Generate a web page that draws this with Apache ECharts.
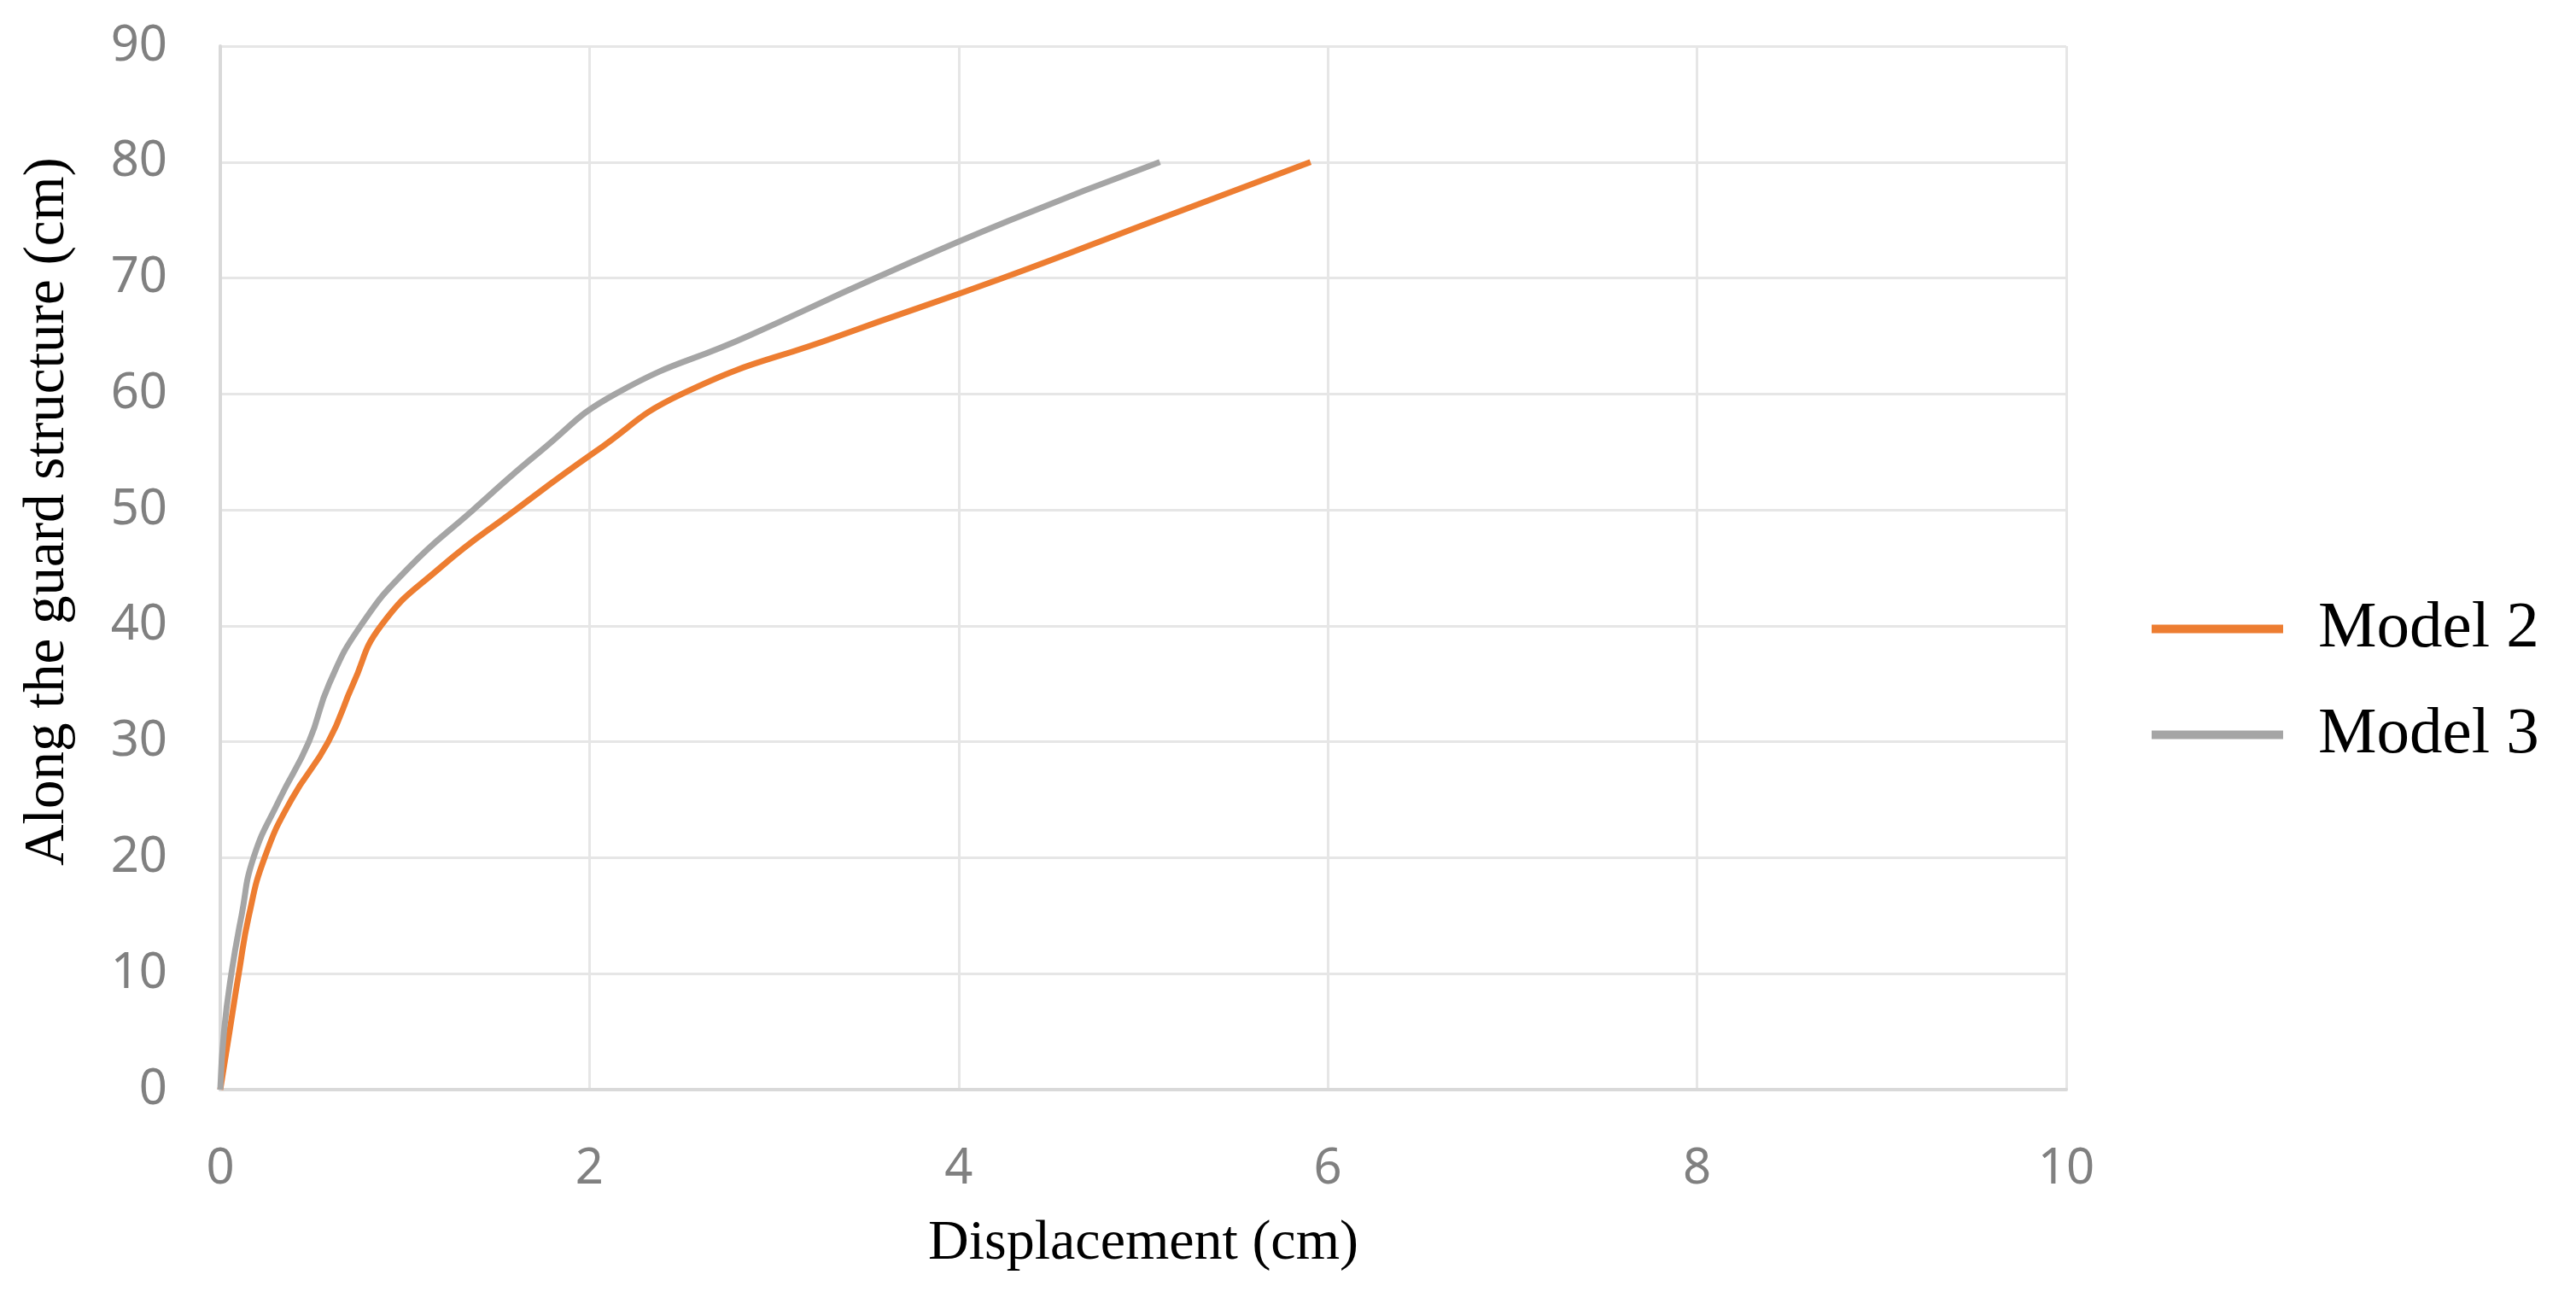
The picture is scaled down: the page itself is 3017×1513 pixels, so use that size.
<!DOCTYPE html>
<html>
<head>
<meta charset="utf-8">
<script src="https://cdn.jsdelivr.net/npm/echarts@6/dist/echarts.min.js"></script>
<style>
html,body{margin:0;padding:0;background:#fff;}
#chart{width:3017px;height:1513px;}
</style>
</head>
<body>
<div id="chart"></div>
<script>
// Height along the guard structure (cm)
const heights = [0, 5, 10, 15, 20, 25, 30, 35, 40, 45, 50, 55, 60, 65, 70, 75, 80];
// Displacement (cm) per height
const model2 = [0, 0.05, 0.10, 0.155, 0.24, 0.385, 0.585, 0.72, 0.87, 1.19, 1.60, 2.03, 2.50, 3.35, 4.24, 5.07, 5.906];
const model3 = [0, 0.02, 0.06, 0.115, 0.18, 0.32, 0.48, 0.59, 0.76, 1.02, 1.37, 1.73, 2.14, 2.86, 3.55, 4.28, 5.09];
const seriesNames = ['Model 2', 'Model 3'];
const xTitle = 'Displacement (cm)';
const yTitle = 'Along the guard structure (cm)';

const toPairs = (xs) => xs.map((x, i) => [x, heights[i]]);

const chart = echarts.init(document.getElementById('chart'));
const labelFont = '"Noto Sans", sans-serif';
const serif = '"Liberation Serif", "Times New Roman", serif';
chart.setOption({
  backgroundColor: '#ffffff',
  animation: false,
  color: ['#ED7D31', '#A5A5A5'],
  grid: { left: 258, top: 54, width: 2162, height: 1222, containLabel: false },
  legend: {
    orient: 'vertical',
    left: 2515,
    top: 693,
    itemWidth: 154,
    itemHeight: 10,
    itemGap: 47,
    icon: 'rect',
    data: seriesNames,
    textStyle: { fontFamily: serif, fontSize: 77, color: '#000', lineHeight: 76, padding: [0, 0, 0, 36] }
  },
  xAxis: {
    type: 'value',
    min: 0, max: 10, interval: 2,
    name: xTitle,
    nameLocation: 'middle',
    nameGap: 148,
    nameTextStyle: { fontFamily: serif, fontSize: 66, color: '#000' },
    axisLine: { show: true, lineStyle: { color: '#d9d9d9', width: 4 } },
    axisTick: { show: false },
    axisLabel: { margin: 64, fontFamily: labelFont, fontSize: 58, color: '#808080' },
    splitLine: { show: true, lineStyle: { color: '#e6e6e6', width: 3 } }
  },
  yAxis: {
    type: 'value',
    min: 0, max: 90, interval: 10,
    name: yTitle,
    nameLocation: 'middle',
    nameGap: 168,
    nameRotate: 90,
    nameTextStyle: { fontFamily: serif, fontSize: 67, color: '#000', padding: [0, 0, 0, 132] },
    axisLine: { show: true, lineStyle: { color: '#d9d9d9', width: 4 } },
    axisTick: { show: false },
    axisLabel: { margin: 62, fontFamily: labelFont, fontSize: 58, color: '#808080' },
    splitLine: { show: true, lineStyle: { color: '#e6e6e6', width: 3 } }
  },
  series: [
    {
      name: seriesNames[0], type: 'line', data: toPairs(model2),
      smooth: 0.5, showSymbol: false, symbol: 'none',
      lineStyle: { width: 7, color: '#ED7D31' }
    },
    {
      name: seriesNames[1], type: 'line', data: toPairs(model3),
      smooth: 0.5, showSymbol: false, symbol: 'none',
      lineStyle: { width: 7, color: '#A5A5A5' }
    }
  ]
});
</script>
</body>
</html>
